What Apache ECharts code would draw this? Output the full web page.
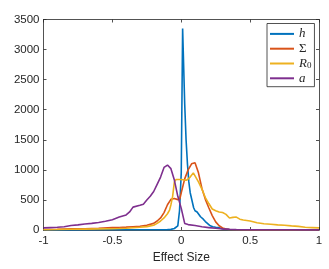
<!DOCTYPE html>
<html><head><meta charset="utf-8">
<script src="https://cdn.jsdelivr.net/npm/echarts@6/dist/echarts.min.js"></script>
<style>html,body{margin:0;padding:0;background:#fff}#c{width:329px;height:269px}</style>
</head><body><div id="c"></div>
<script>
const xTicks = [-1, -0.5, 0, 0.5, 1];
const yTicks = [0, 500, 1000, 1500, 2000, 2500, 3000, 3500];

const hX = [-1, -0.8, -0.6, -0.4, -0.2, -0.1, -0.075, -0.05, -0.025, -0.0125, 0, 0.01, 0.025, 0.035, 0.045, 0.055, 0.065, 0.075, 0.09, 0.1, 0.115, 0.125, 0.14, 0.16, 0.175, 0.19, 0.21, 0.23, 0.25, 0.27, 0.29, 0.31, 0.35, 0.4, 0.5, 0.7, 1];
const hY = [2, 2, 3, 3, 4, 6, 10, 25, 70, 320, 950, 3350, 2100, 1500, 1100, 800, 620, 520, 370, 320, 300, 270, 220, 180, 140, 110, 70, 55, 45, 40, 25, 15, 8, 4, 2, 1, 0];

const sigmaX = [-1, -0.9, -0.8, -0.7, -0.6, -0.5, -0.45, -0.4, -0.35, -0.3, -0.25, -0.2, -0.175, -0.15, -0.125, -0.1, -0.075, -0.05, -0.025, -0.01, 0, 0.025, 0.05, 0.075, 0.1, 0.125, 0.15, 0.175, 0.2, 0.225, 0.25, 0.275, 0.3, 0.325, 0.35, 0.4, 0.5, 0.7, 1];
const sigmaY = [8, 12, 18, 22, 30, 40, 42, 48, 55, 62, 80, 110, 150, 200, 290, 420, 510, 525, 505, 520, 620, 850, 1000, 1100, 1120, 950, 690, 510, 370, 240, 135, 70, 35, 15, 8, 3, 1, 0, 0];

const r0X = [-1, -0.9, -0.8, -0.7, -0.6, -0.5, -0.45, -0.4, -0.35, -0.3, -0.25, -0.2, -0.175, -0.15, -0.125, -0.1, -0.085, -0.075, -0.0625, -0.05, -0.0375, -0.025, 0, 0.025, 0.04, 0.065, 0.0875, 0.1, 0.125, 0.15, 0.175, 0.2, 0.225, 0.25, 0.275, 0.3, 0.325, 0.35, 0.375, 0.4, 0.425, 0.45, 0.5, 0.55, 0.6, 0.65, 0.7, 0.75, 0.8, 0.85, 0.9, 0.95, 1];
const r0Y = [5, 8, 12, 15, 18, 22, 25, 30, 38, 45, 56, 80, 110, 150, 200, 270, 330, 420, 560, 800, 840, 845, 840, 830, 830, 880, 950, 920, 800, 680, 540, 440, 350, 320, 300, 290, 260, 200, 210, 215, 180, 165, 150, 120, 105, 95, 85, 80, 68, 60, 45, 40, 35];

const aX = [-1, -0.95, -0.9, -0.85, -0.8, -0.75, -0.7, -0.65, -0.6, -0.55, -0.5, -0.45, -0.4, -0.375, -0.35, -0.3, -0.275, -0.25, -0.225, -0.2, -0.175, -0.15, -0.125, -0.1, -0.075, -0.05, -0.025, 0, 0.025, 0.05, 0.1, 0.15, 0.2, 0.25, 0.3, 0.35, 0.4, 0.5, 0.6, 0.7, 0.8, 0.9, 1];
const aY = [35, 40, 45, 55, 75, 85, 100, 110, 125, 145, 170, 215, 250, 300, 380, 410, 430, 500, 560, 640, 760, 880, 1040, 1080, 1020, 830, 560, 360, 110, 90, 75, 55, 40, 28, 18, 12, 8, 5, 4, 3, 3, 2, 2];

const names = ['h', 'Σ', 'R0', 'a'];
const colors = ['#0072BD', '#D95319', '#EDB120', '#7E2F8E'];

function pairs(xs, ys) { return xs.map((x, i) => [x, ys[i]]); }
const allData = [pairs(hX, hY), pairs(sigmaX, sigmaY), pairs(r0X, r0Y), pairs(aX, aY)];

const axisColor = '#262626';
const labelFont = { color: axisColor, fontFamily: 'Liberation Sans', fontSize: 11.5 };
const lineSt = { color: axisColor, width: 0.8 };

const chart = echarts.init(document.getElementById('c'), null, { renderer: 'canvas' });
chart.setOption({
  animation: false,
  backgroundColor: '#fff',
  grid: { left: 43.5, right: 10, top: 19.5, bottom: 39 },
  legend: {
    orient: 'vertical', left: 267, top: 23.5,
    padding: [3, 3, 1, 3], itemGap: 0,
    itemWidth: 24, itemHeight: 2,
    icon: 'rect',
    borderColor: axisColor, borderWidth: 0.8, backgroundColor: '#fff',
    data: names,
    formatter: function (n) {
      if (n === 'h') return '{i|h}';
      if (n === 'Σ') return '{n|Σ}';
      if (n === 'R0') return '{i|R}{s|0}';
      return '{i|a}';
    },
    textStyle: {
      lineHeight: 14.8,
      rich: {
        i: { fontFamily: 'Liberation Serif', fontStyle: 'italic', fontSize: 13, color: axisColor, lineHeight: 14.8 },
        n: { fontFamily: 'Liberation Serif', fontSize: 13, color: axisColor, lineHeight: 14.8 },
        s: { fontFamily: 'Liberation Serif', fontSize: 9, color: axisColor, padding: [5, 0, 0, 0], lineHeight: 14.8 }
      }
    }
  },
  xAxis: [{
    type: 'value', min: -1, max: 1, interval: 0.5,
    name: 'Effect Size', nameLocation: 'middle', nameGap: 21,
    nameTextStyle: { color: axisColor, fontFamily: 'Liberation Sans', fontSize: 12 },
    axisLine: { onZero: false, lineStyle: lineSt },
    axisTick: { inside: true, length: 3, lineStyle: lineSt },
    axisLabel: Object.assign({ margin: 5, formatter: v => String(v) }, labelFont),
    splitLine: { show: false }
  }, {
    type: 'value', min: -1, max: 1, interval: 0.5, position: 'top',
    axisLine: { onZero: false, lineStyle: lineSt },
    axisTick: { inside: true, length: 3, lineStyle: lineSt },
    axisLabel: { show: false }, splitLine: { show: false }
  }],
  yAxis: [{
    type: 'value', min: 0, max: 3500, interval: 500, position: 'left',
    axisLine: { show: true, onZero: false, lineStyle: lineSt },
    axisTick: { show: true, inside: true, length: 3, lineStyle: lineSt },
    axisLabel: Object.assign({ margin: 4, formatter: v => String(v) }, labelFont),
    splitLine: { show: false }
  }, {
    type: 'value', min: 0, max: 3500, interval: 500, position: 'right',
    axisLine: { show: true, onZero: false, lineStyle: lineSt },
    axisTick: { show: true, inside: true, length: 3, lineStyle: lineSt },
    axisLabel: { show: false }, splitLine: { show: false }
  }],
  series: names.map((n, i) => ({
    name: n, type: 'line', data: allData[i],
    xAxisIndex: 0, yAxisIndex: 0,
    symbol: 'none', color: colors[i],
    lineStyle: { width: 1.6, color: colors[i] },
    z: 2 + i
  }))
});
</script>
</body></html>
